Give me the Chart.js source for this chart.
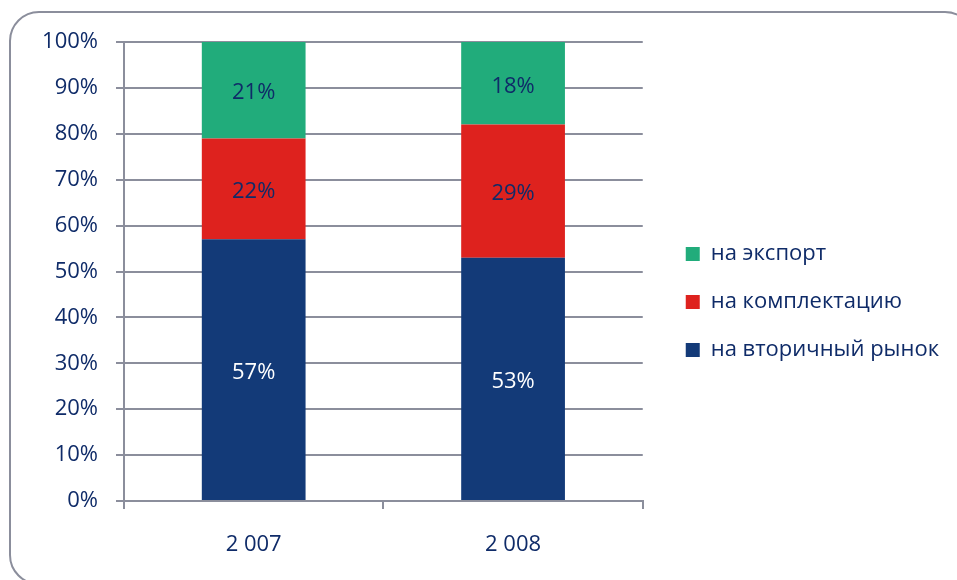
<!DOCTYPE html>
<html>
<head>
<meta charset="utf-8">
<script src="https://cdn.jsdelivr.net/npm/chart.js@4.4.0/dist/chart.umd.min.js"></script>
<style>
html, body { margin: 0; padding: 0; background: #fff; overflow: hidden; }
#wrap { position: relative; width: 957px; height: 580px; }
#frame { position: absolute; left: 9px; top: 11px; width: 962px; height: 570px; border: 2px solid #8b8e9c; border-radius: 30px; }
canvas { position: absolute; left: 0; top: 0; }
</style>
</head>
<body>
<div id="wrap"><div id="frame"></div><canvas id="chart" width="957" height="580"></canvas></div>
<script>
// data (shares, %)
var years = ['2 007', '2 008'];
var secondaryMarket = [57, 53];
var assembly = [22, 29];
var exportShare = [21, 18];
var seriesNames = ['на вторичный рынок', 'на комплектацию', 'на экспорт'];

var navy = '#0f2b68';
var gridColor = '#8b8e9c';
var font = { family: '"Open Sans", sans-serif', size: 22 };

// value labels in the middle of each bar segment
var barLabels = {
   id: 'barLabels',
   afterDatasetsDraw: function(chart) {
      var ctx = chart.ctx;
      ctx.save();
      ctx.font = '22px "Open Sans", sans-serif';
      ctx.textAlign = 'center';
      ctx.textBaseline = 'middle';
      chart.data.datasets.forEach(function(ds, i) {
         chart.getDatasetMeta(i).data.forEach(function(bar, j) {
            var c = bar.getCenterPoint();
            ctx.fillStyle = ds.labelColor;
            ctx.fillText(ds.data[j] + '%', c.x, c.y + 3);
         });
      });
      ctx.restore();
   }
};

// the legend is capped in width, so the plot is narrowed with padding
// and the legend box is widened / pushed back to the right here
var legendShift = {
   id: 'legendShift',
   afterLayout: function(chart) {
      var lg = chart.legend;
      lg.left += 17;
      lg.right = chart.width;
      lg.width = lg.right - lg.left;
      lg.top += 2;
      lg.bottom += 2;
   }
};

var createChart = function() {
   var config = {
      type: 'bar',
      data: {
         labels: years,
         datasets: [
            { label: seriesNames[0], data: secondaryMarket, backgroundColor: '#133a78', labelColor: '#ffffff' },
            { label: seriesNames[1], data: assembly, backgroundColor: '#de221e', labelColor: navy },
            { label: seriesNames[2], data: exportShare, backgroundColor: '#21ac7b', labelColor: navy }
         ]
      },
      options: {
         responsive: false,
         animation: false,
         layout: { padding: { top: 42, bottom: 22, left: 0, right: 100 } },
         datasets: { bar: { barPercentage: 0.4, categoryPercentage: 1.0, borderWidth: 0 } },
         plugins: {
            legend: {
               position: 'right',
               reverse: true,
               labels: { boxWidth: 14, boxHeight: 14, padding: 26, color: navy, font: font }
            },
            tooltip: { enabled: false }
         },
         scales: {
            x: {
               stacked: true,
               afterFit: function(s) { s.height = 57; },
               grid: { display: true, drawOnChartArea: false, drawTicks: true, tickLength: 8, color: gridColor, lineWidth: 2, offset: true },
               border: { display: true, color: gridColor, width: 2 },
               ticks: { color: navy, font: font, padding: 23 }
            },
            y: {
               stacked: true,
               min: 0,
               max: 100,
               afterFit: function(s) { s.width = 124; },
               grid: { color: gridColor, lineWidth: 2, tickLength: 8, drawTicks: true },
               border: { display: true, color: gridColor, width: 2 },
               ticks: {
                  stepSize: 10,
                  color: navy,
                  font: font,
                  padding: 18,
                  callback: function(v) { return v + '%'; }
               }
            }
         }
      },
      plugins: [barLabels, legendShift]
   };
   new Chart(document.getElementById('chart').getContext('2d'), config);
};

// make sure the font is ready before the legend gets measured
document.fonts.load('22px "Open Sans"', 'на вторичный рынок 0%').then(createChart, createChart);
</script>
</body>
</html>
